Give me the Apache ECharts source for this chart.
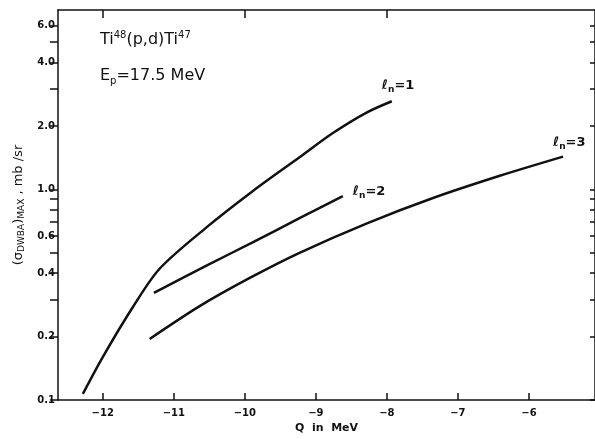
<!DOCTYPE html>
<html><head><meta charset="utf-8">
<script src="https://cdn.jsdelivr.net/npm/echarts@6/dist/echarts.min.js"></script>
<style>html,body{margin:0;background:#fff}#c{width:595px;height:439px}</style>
</head><body><div id="c"></div>
<script>
// curve points: [Q in MeV, sigma mb/sr]
const ln1 = [[-12.28,0.107],[-12.0,0.16],[-11.58,0.275],[-11.2,0.42],[-10.54,0.66],[-9.89,0.98],[-9.23,1.42],[-8.76,1.85],[-8.28,2.32],[-7.93,2.62]];
const ln2 = [[-11.28,0.323],[-10.54,0.435],[-9.89,0.56],[-9.23,0.73],[-8.62,0.93]];
const ln3 = [[-11.34,0.195],[-10.63,0.28],[-9.93,0.38],[-9.23,0.50],[-8.28,0.69],[-7.35,0.91],[-6.41,1.16],[-5.52,1.43]];
const yLabels = [0.1,0.2,0.4,0.6,1.0,2.0,4.0,6.0];
const yMinor = [0.1,0.2,0.3,0.4,0.5,0.6,0.7,0.8,0.9,1,2,3,4,5,6];
const xTicks = [-12,-11,-10,-9,-8,-7,-6,-5];
const topTicks = [-12,-10,-8];

const lg = v => Math.log10(v);
const tr = arr => arr.map(p => [p[0], lg(p[1])]);
const font = 'DejaVu Sans';
const chart = echarts.init(document.getElementById('c'));
const lineStyle = {color:'#111', width:2.5};
function mk(data, label, off) {
  return {type:'line', data:tr(data), smooth:0.3, symbol:'none', lineStyle, xAxisIndex:0, yAxisIndex:0,
    endLabel:{show:true, formatter:label, offset:off, color:'#111', fontFamily:font, fontSize:13, fontWeight:'bold',
      rich:{s:{fontSize:9, fontWeight:'bold', verticalAlign:'bottom', padding:[8,0,0,0], fontFamily:font}}}};
}
chart.setOption({
  animation:false,
  grid:{left:58, right:0, top:10, bottom:36},
  xAxis:[
    {type:'value', min:-12.63, max:-5.07, position:'bottom',
     axisLine:{onZero:false, lineStyle:{color:'#111', width:1.5}},
     axisTick:{inside:true, length:7, customValues:xTicks, lineStyle:{color:'#111', width:1.5}},
     axisLabel:{customValues:xTicks, color:'#111', fontFamily:font, fontSize:10, fontWeight:'bold', formatter:v=>v<0?'\u2212'+(-v):v},
     splitLine:{show:false},
     name:'Q  in  MeV', nameLocation:'middle', nameGap:22, nameTextStyle:{color:'#111', fontFamily:font, fontSize:11, fontWeight:'bold'}},
    {type:'value', min:-12.63, max:-5.07, position:'top',
     axisLine:{onZero:false, lineStyle:{color:'#111', width:1.5}},
     axisTick:{inside:true, length:8, customValues:topTicks, lineStyle:{color:'#111', width:1.5}},
     axisLabel:{show:false}, splitLine:{show:false}}
  ],
  yAxis:[
    {type:'value', min:-1, max:lg(7.1), position:'left',
     axisLine:{onZero:false, lineStyle:{color:'#111', width:1.5}},
     axisTick:{inside:false, length:8, customValues:yMinor.map(lg), lineStyle:{color:'#111', width:1.5}},
     axisLabel:{customValues:yLabels.map(lg), color:'#111', fontFamily:font, fontSize:10, fontWeight:'bold', margin:3,
       formatter:v=>Math.pow(10,v).toFixed(1)},
     splitLine:{show:false},
     name:'{a|(σ}{b|DWBA}{a|)}{b|MAX}{a| , mb /sr}', nameLocation:'middle', nameGap:32,
     nameTextStyle:{rich:{a:{fontSize:13, color:'#111', fontFamily:font}, b:{fontSize:9, color:'#111', fontFamily:font, verticalAlign:'bottom', padding:[6,0,0,0]}}}},
    {type:'value', min:-1, max:lg(7.1), position:'right',
     axisLine:{onZero:false, lineStyle:{color:'#111', width:1.5}},
     axisTick:{inside:true, length:5, customValues:yMinor.map(lg), lineStyle:{color:'#111', width:1.5}},
     axisLabel:{show:false}, splitLine:{show:false}}
  ],
  graphic:[
    {type:'text', left:100, top:30, style:{text:'{a|Ti}{s|48}{a|(p,d)Ti}{s|47}', rich:{a:{fontSize:16, fontFamily:font, fill:'#111'}, s:{fontSize:10, fontFamily:font, fill:'#111', verticalAlign:'top', padding:[0,0,10,0]}}}},
    {type:'text', left:100, top:68, style:{text:'{a|E}{s|p}{a|=17.5 MeV}', rich:{a:{fontSize:16, fontFamily:font, fill:'#111'}, s:{fontSize:10, fontFamily:font, fill:'#111', verticalAlign:'bottom', padding:[10,0,0,0]}}}}
  ],
  series:[
    mk(ln1, '\u2113{s|n}=1', [-18,-16]),
    mk(ln2, '\u2113{s|n}=2', [2,-4]),
    mk(ln3, '\u2113{s|n}=3', [-18,-14])
  ]
});
</script></body></html>
